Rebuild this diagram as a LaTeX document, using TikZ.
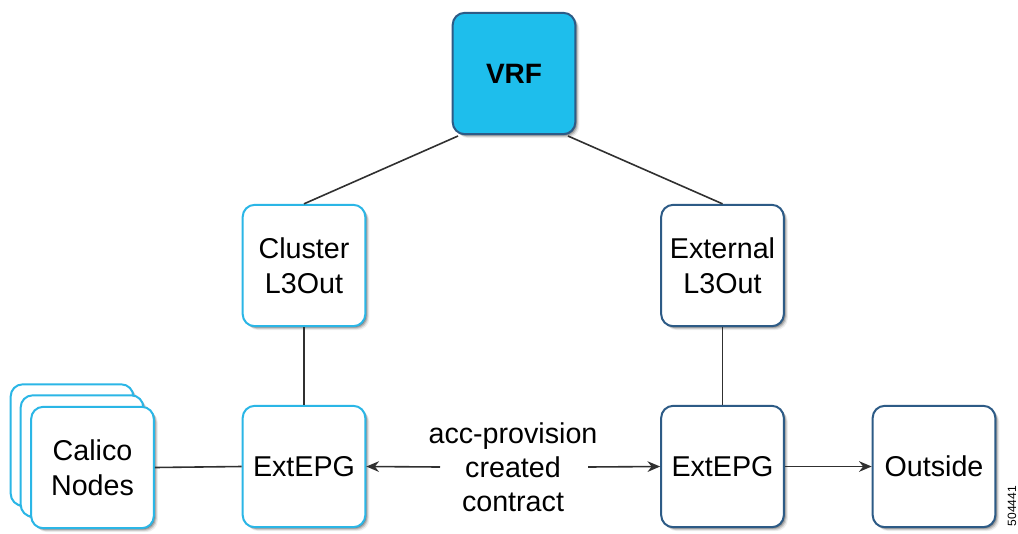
\documentclass[tikz,border=0pt]{standalone}
\usepackage{fontspec}
\setmainfont{Liberation Sans}
\usetikzlibrary{shadows,arrows.meta}

\definecolor{vrffill}{HTML}{1EBEEC}
\definecolor{darkedge}{HTML}{2D5B86}
\definecolor{lightedge}{HTML}{2BB6E6}
\definecolor{wire}{HTML}{303030}

\tikzset{
  softshadow/.style={
    drop shadow={shadow xshift=3.0pt,shadow yshift=-3.0pt,opacity=0.07,fill=black},
    drop shadow={shadow xshift=2.2pt,shadow yshift=-2.2pt,opacity=0.12,fill=black},
    drop shadow={shadow xshift=1.5pt,shadow yshift=-1.5pt,opacity=0.18,fill=black},
    drop shadow={shadow xshift=0.8pt,shadow yshift=-0.8pt,opacity=0.25,fill=black}},
  box/.style={rectangle, rounded corners=9pt, line width=1.5pt, fill=white,
    minimum width=92pt, minimum height=91pt, align=center, text=black,
    font=\fontsize{21.5}{26.5}\selectfont, softshadow},
  lightbox/.style={box, draw=lightedge},
  darkbox/.style={box, draw=darkedge},
  vrfbox/.style={box, draw=darkedge, fill=vrffill, font=\fontsize{21}{26}\selectfont\bfseries},
  wireline/.style={draw=wire, line width=1.2pt},
  arrowline/.style={wireline, -{Stealth[length=9.5pt,width=8pt]}}
}

\begin{document}
\begin{tikzpicture}[x=0.75pt,y=-0.75pt]
  \useasboundingbox (0,0) rectangle (1018,533);

  % top-level VRF
  \node[vrfbox] (vrf) at (514,73.5) {VRF};

  % L3Out nodes
  \node[lightbox] (cl3) at (304,265.5) {Cluster\\L3Out};
  \node[darkbox]  (el3) at (722.5,265.5) {External\\L3Out};

  % external EPGs and outside
  \node[lightbox] (epgl) at (304,466.5) {ExtEPG};
  \node[darkbox]  (epgr) at (722.5,466.5) {ExtEPG};
  \node[darkbox]  (out)  at (934,466.5) {Outside};

  % stacked Calico nodes
  \node[lightbox] (cal3) at (72,445) {};
  \node[lightbox] (cal2) at (82,456) {};
  \node[lightbox] (cal1) at (92.5,467.5) {Calico\\Nodes};

  % contract label
  \node[font=\fontsize{21.5}{25.5}\selectfont, align=center] (contract) at (513,467) {acc-provision\\created\\contract};
  \coordinate (cl) at (440,467);
  \coordinate (cr) at (588,467);

  % VRF attachments
  \coordinate (vrfl) at (458,136);
  \coordinate (vrfr) at (568,136);
  \draw[wireline] (vrfl) -- (cl3.north);
  \draw[wireline] (vrfr) -- (el3.north);

  % L3Out to EPG
  \draw[wireline] (cl3.south) -- (epgl.north);
  \draw[wireline] (el3.south) -- (epgr.north);

  % Calico to EPG
  \draw[wireline] (cal1.east) -- (epgl.west);

  % contract arrows
  \draw[arrowline] (cl) -- (epgl.east);
  \draw[arrowline] (cr) -- (epgr.west);
  \draw[arrowline] (epgr.east) -- (out.west);

  % figure number
  \node[rotate=90, font=\fontsize{9}{10}\selectfont] (fignum) at (1012,506) {504441};
\end{tikzpicture}
\end{document}
